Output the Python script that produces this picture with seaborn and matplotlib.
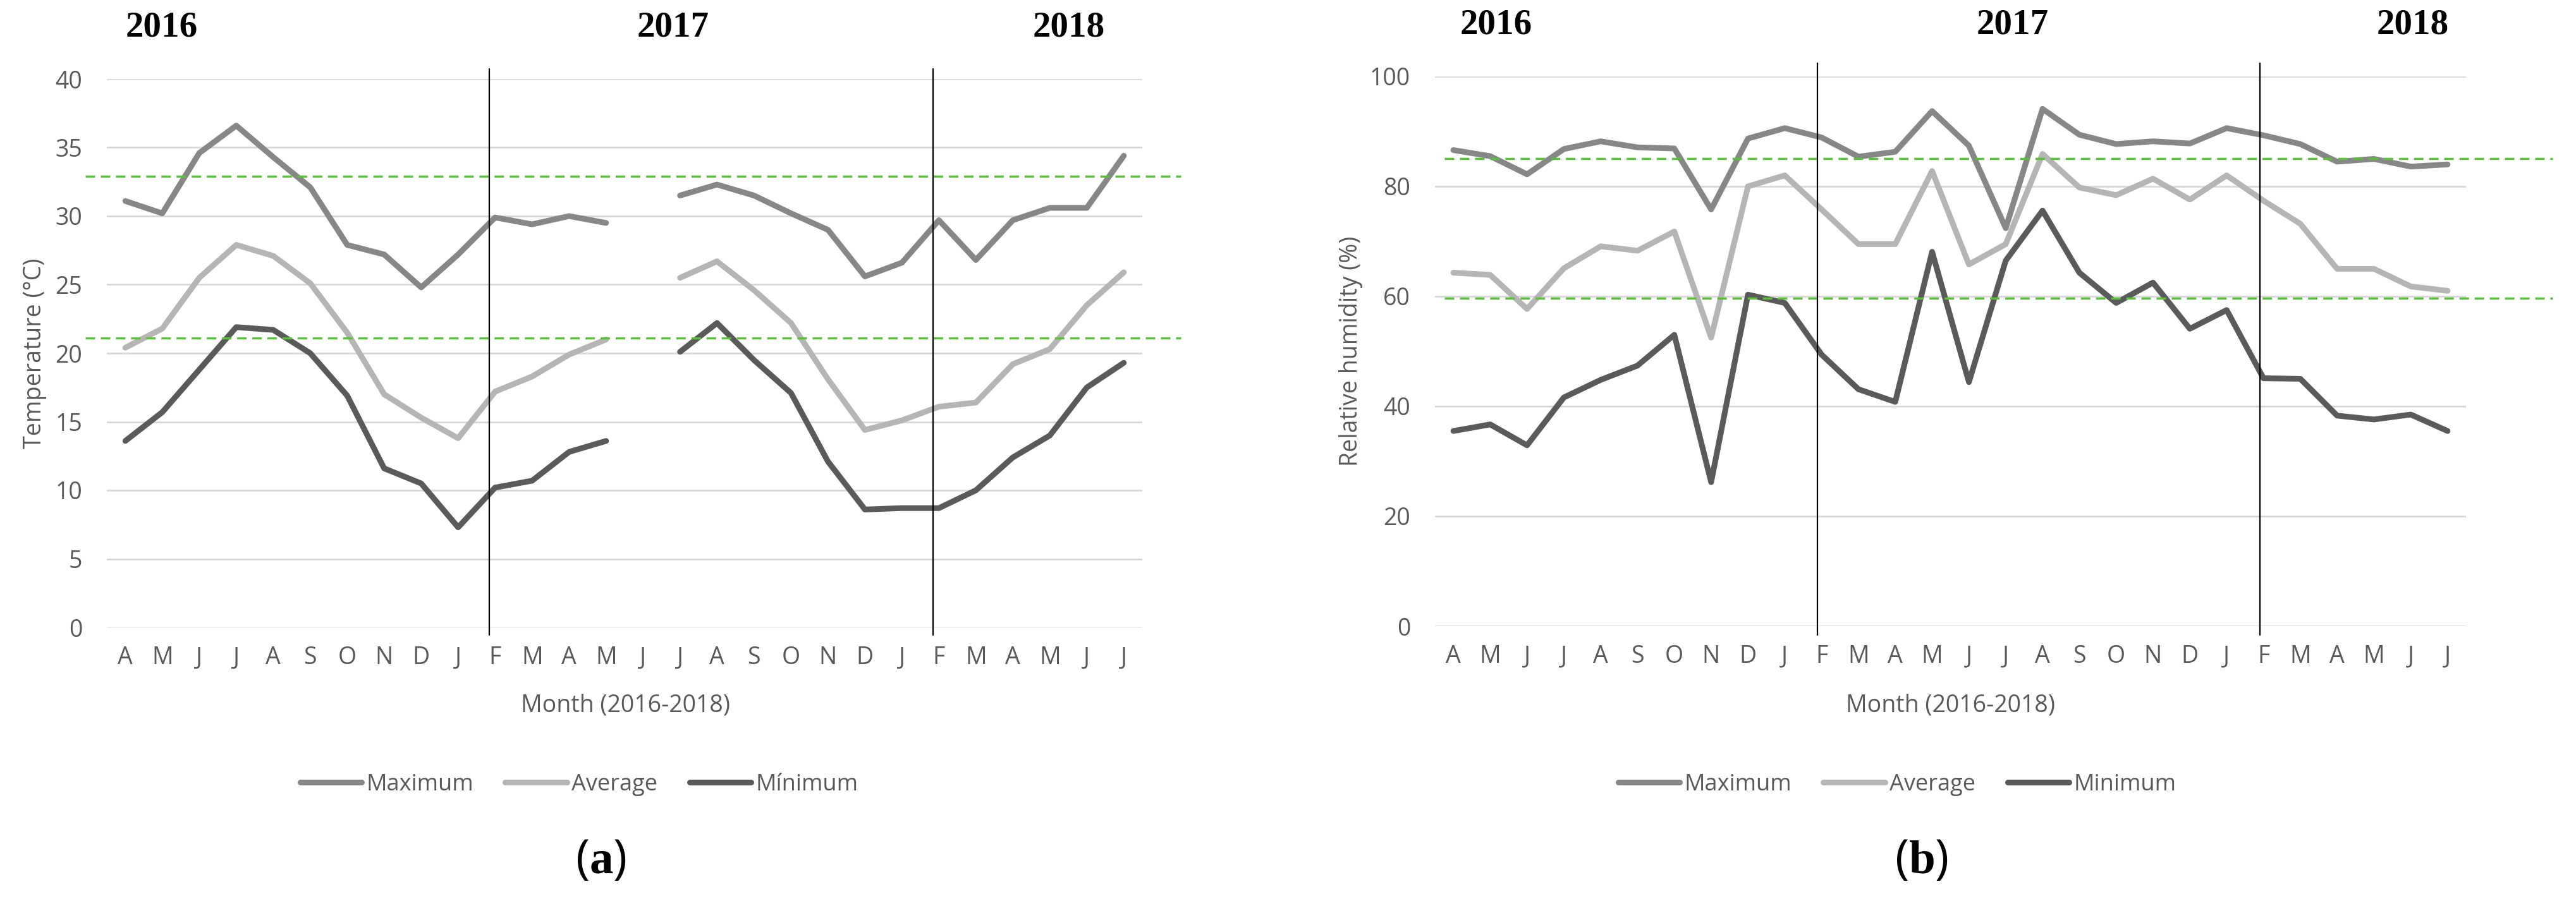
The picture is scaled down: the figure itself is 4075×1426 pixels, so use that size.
import numpy as np
import pandas as pd
import matplotlib
matplotlib.use("Agg")
import matplotlib.pyplot as plt
import seaborn as sns

# month labels, April 2016 .. July 2018
months = ["A", "M", "J", "J", "A", "S", "O", "N", "D", "J", "F", "M", "A", "M",
          "J", "J", "A", "S", "O", "N", "D", "J", "F", "M", "A", "M", "J", "J"]
nan = np.nan

# (a) temperature, June 2017 missing
temp_max = [31.1, 30.2, 34.6, 36.6, 34.3, 32.1, 27.9, 27.2, 24.8, 27.2, 29.9, 29.4, 30.0, 29.5,
            nan, 31.5, 32.3, 31.5, 30.2, 29.0, 25.6, 26.6, 29.7, 26.8, 29.7, 30.6, 30.6, 34.4]
temp_avg = [20.4, 21.8, 25.5, 27.9, 27.1, 25.1, 21.5, 17.0, 15.3, 13.8, 17.2, 18.3, 19.9, 21.0,
            nan, 25.5, 26.7, 24.6, 22.2, 18.1, 14.4, 15.1, 16.1, 16.4, 19.2, 20.3, 23.5, 25.9]
temp_min = [13.6, 15.7, 18.8, 21.9, 21.7, 20.0, 16.9, 11.6, 10.5, 7.3, 10.2, 10.7, 12.8, 13.6,
            nan, 20.1, 22.2, 19.5, 17.1, 12.1, 8.6, 8.7, 8.7, 10.0, 12.4, 14.0, 17.5, 19.3]
temp_thresholds = [32.9, 21.1]

# (b) relative humidity
hum_max = [86.6, 85.5, 82.2, 86.8, 88.2, 87.1, 86.9, 75.8, 88.7, 90.6, 88.9, 85.4, 86.3, 93.7,
           87.4, 72.4, 94.1, 89.4, 87.7, 88.2, 87.8, 90.6, 89.3, 87.7, 84.5, 85.0, 83.6, 84.0]
hum_avg = [64.3, 63.9, 57.7, 65.1, 69.1, 68.3, 71.8, 52.5, 80.0, 82.0, 75.8, 69.5, 69.5, 82.8,
           65.8, 69.5, 85.9, 79.8, 78.4, 81.4, 77.6, 82.0, 77.4, 73.2, 65.0, 65.0, 61.8, 61.0]
hum_min = [35.5, 36.7, 32.9, 41.6, 44.8, 47.4, 53.0, 26.2, 60.3, 58.8, 49.4, 43.1, 40.8, 68.1,
           44.4, 66.5, 75.6, 64.3, 58.8, 62.5, 54.1, 57.5, 45.1, 45.0, 38.3, 37.6, 38.5, 35.5]
hum_thresholds = [85.0, 59.7]

years = ["2016", "2017", "2018"]
colors = ["#878787", "#b5b5b5", "#5a5a5a"]
GRAY = "#595959"
GREEN = "#5cbf3c"


def long_frame(series):
    rows = []
    for name, vals in series.items():
        seg = 0
        for i, v in enumerate(vals):
            if np.isnan(v):
                seg += 1
                continue
            rows.append({"idx": i, "value": v, "series": name, "seg": seg})
    return pd.DataFrame(rows)


sns.set_style("white")
plt.rcParams["font.family"] = ["Open Sans", "DejaVu Sans"]
plt.rcParams["mathtext.fontset"] = "custom"
plt.rcParams["mathtext.rm"] = "Liberation Serif"
plt.rcParams["mathtext.bf"] = "Liberation Serif:bold"

W, H = 4075, 1426
fig = plt.figure(figsize=(W / 100, H / 100), dpi=100)


def px(x, y):
    return x / W, 1 - y / H


panels = [
    dict(rect=[169 / W, 1 - 993 / H, 1638 / W, 868 / H],
         series={"Maximum": temp_max, "Average": temp_avg, "Mínimum": temp_min},
         ylim=40, ystep=5, ylabel="Temperature (°C)", thr=temp_thresholds,
         thr_x=(-0.021, 1.037), vlines=[9.84, 21.84], vext=(-0.014, 1.018),
         labx=-0.058, years=[(256, 44), (1065, 44), (1691, 44)],
         xlabel=(989, 1116), legend=(916, 1242), tag=(950, 1362), tagtxt=r"($\mathbf{a}$)"),
    dict(rect=[2270 / W, 1 - 991 / H, 1631 / W, 870 / H],
         series={"Maximum": hum_max, "Average": hum_avg, "Minimum": hum_min},
         ylim=100, ystep=20, ylabel="Relative humidity (%)", thr=hum_thresholds,
         thr_x=(0.009, 1.084), vlines=[9.89, 21.9], vext=(-0.016, 1.024),
         labx=-0.070, years=[(2367, 39), (3184, 39), (3817, 39)],
         xlabel=(3085, 1116), legend=(3001, 1242), tag=(3039, 1362), tagtxt=r"($\mathbf{b}$)"),
]

for p in panels:
    ax = fig.add_axes(p["rect"])
    df = long_frame(p["series"])
    names = list(p["series"].keys())
    sns.lineplot(data=df, x="idx", y="value", hue="series", units="seg", estimator=None,
                 palette=dict(zip(names, colors)), hue_order=names, lw=6.5,
                 solid_capstyle="round", ax=ax)
    handles, labels = ax.get_legend_handles_labels()
    ax.get_legend().remove()

    ax.set_xlim(-0.5, 27.5)
    ax.set_ylim(0, p["ylim"])
    ax.set_xticks(range(len(months)))
    ax.set_xticklabels(months)
    ax.set_yticks(np.arange(0, p["ylim"] + 1, p["ystep"]))
    ax.tick_params(axis="both", length=0, labelsize=27, colors=GRAY)
    ax.tick_params(axis="y", pad=28)
    ax.tick_params(axis="x", pad=21)
    ax.yaxis.grid(True, color="#d9d9d9", lw=2)
    ax.set_axisbelow(True)
    sns.despine(ax=ax, left=True, bottom=True)
    ax.set_xlabel("")
    ax.set_ylabel(p["ylabel"], fontsize=27, color=GRAY)
    ax.yaxis.set_label_coords(p["labx"], 0.5)

    for t in p["thr"]:
        ax.axhline(t, xmin=p["thr_x"][0], xmax=p["thr_x"][1], color=GREEN, lw=2.5,
                   ls=(0, (4.3, 2.6)), clip_on=False, zorder=3)
    for v in p["vlines"]:
        ax.axvline(v, ymin=p["vext"][0], ymax=p["vext"][1], color="black", lw=1.6,
                   clip_on=False, zorder=4)

    for yr, (x, y) in zip(years, p["years"]):
        fig.text(*px(x, y), yr, ha="center", va="center", fontsize=41,
                 fontweight="bold", family="Liberation Serif", color="black")

    fig.text(*px(*p["xlabel"]), "Month (2016-2018)", ha="center", va="center",
             fontsize=27, color=GRAY)
    fig.legend(handles, labels, loc="center", bbox_to_anchor=px(*p["legend"]), ncol=3,
               frameon=False, fontsize=26, handlelength=2.7, handletextpad=0.2,
               columnspacing=1.4, labelcolor=GRAY)
    fig.text(*px(*p["tag"]), p["tagtxt"], ha="center", va="center", fontsize=54,
             color="black")

fig.savefig("out.png", dpi=100)
